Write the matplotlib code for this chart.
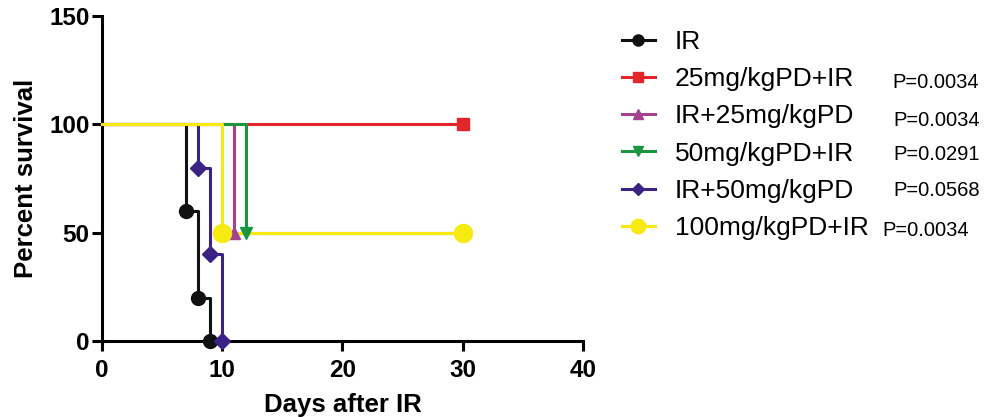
import matplotlib
matplotlib.use("Agg")
import matplotlib.pyplot as plt
from matplotlib.lines import Line2D

plt.rcParams['font.family'] = ['Liberation Sans', 'DejaVu Sans']

# ---- data (Kaplan-Meier steps) ----
labels = ["IR", "25mg/kgPD+IR", "IR+25mg/kgPD", "50mg/kgPD+IR",
          "IR+50mg/kgPD", "100mg/kgPD+IR"]
p_values = ["", "P=0.0034", "P=0.0034", "P=0.0291", "P=0.0568", "P=0.0034"]

ir_days = [0, 7, 8, 9]
ir_surv = [100, 60, 20, 0]
pd25_ir_days = [0, 30]
pd25_ir_surv = [100, 100]
ir_pd25_days = [0, 11, 30]
ir_pd25_surv = [100, 50, 50]
pd50_ir_days = [0, 12, 30]
pd50_ir_surv = [100, 50, 50]
ir_pd50_days = [0, 8, 9, 10]
ir_pd50_surv = [100, 80, 40, 0]
pd100_ir_days = [0, 10, 30]
pd100_ir_surv = [100, 50, 50]

colors = ["#111111", "#e2262b", "#a3428e", "#1a9641", "#3b2386", "#f7ea10"]
markers = ["o", "s", "^", "v", "D", "o"]
msizes = [10, 9, 9, 9, 8, 13]

series = [(ir_days, ir_surv), (pd25_ir_days, pd25_ir_surv),
          (ir_pd25_days, ir_pd25_surv), (pd50_ir_days, pd50_ir_surv),
          (ir_pd50_days, ir_pd50_surv), (pd100_ir_days, pd100_ir_surv)]
# drawing order: red, magenta, green, black, purple, yellow on top
zorders = [5, 2, 3, 4, 6, 7]

fig = plt.figure(figsize=(9.87, 4.17), dpi=100)
ax = fig.add_axes([102 / 987, 1 - 341 / 417, (583 - 102) / 987, (341 - 16) / 417])

for (d, s), c, m, ms, z in zip(series, colors, markers, msizes, zorders):
    ax.step(d, s, where='post', color=c, lw=2.2, zorder=z, clip_on=False)
    ax.plot(d[1:], s[1:], ls='none', marker=m, color=c, ms=ms,
            zorder=z + 10, clip_on=False)

ax.set_xlim(0, 40)
ax.set_ylim(0, 150)
ax.set_xticks([0, 10, 20, 30, 40])
ax.set_yticks([0, 50, 100, 150])
for side in ['top', 'right']:
    ax.spines[side].set_visible(False)
for side in ['left', 'bottom']:
    ax.spines[side].set_linewidth(2.2)
ax.tick_params(width=2.2, length=7, labelsize=17.5)
ax.tick_params(axis='x', pad=6)
ax.tick_params(axis='y', pad=2)
for lbl in ax.get_xticklabels() + ax.get_yticklabels():
    lbl.set_fontweight('bold')
ax.set_xlabel("Days after IR", fontsize=18.5, fontweight='bold', labelpad=8)
ax.set_ylabel("Percent survival", fontsize=18.5, fontweight='bold', labelpad=8)

# ---- legend ----
handles = [Line2D([0], [0], color=c, marker=m, ms=ms * 0.8, lw=2.2)
           for c, m, ms in zip(colors, markers, msizes)]
fig.legend(handles, labels, loc='upper left',
           bbox_to_anchor=(622 / 987, 1 - 30 / 417), frameon=False,
           fontsize=19, handlelength=1.25, handletextpad=0.75,
           labelspacing=0.5, borderpad=0, borderaxespad=0)

p_rows = [0, 83, 120, 155, 190, 230]
p_x = [0, 892, 893, 893, 893, 882]
for p, x, y in zip(p_values, p_x, p_rows):
    if p:
        fig.text(x / 987, 1 - y / 417, p, fontsize=14.5, va='center',
                 ha='left')

fig.savefig("out.png", dpi=100)
